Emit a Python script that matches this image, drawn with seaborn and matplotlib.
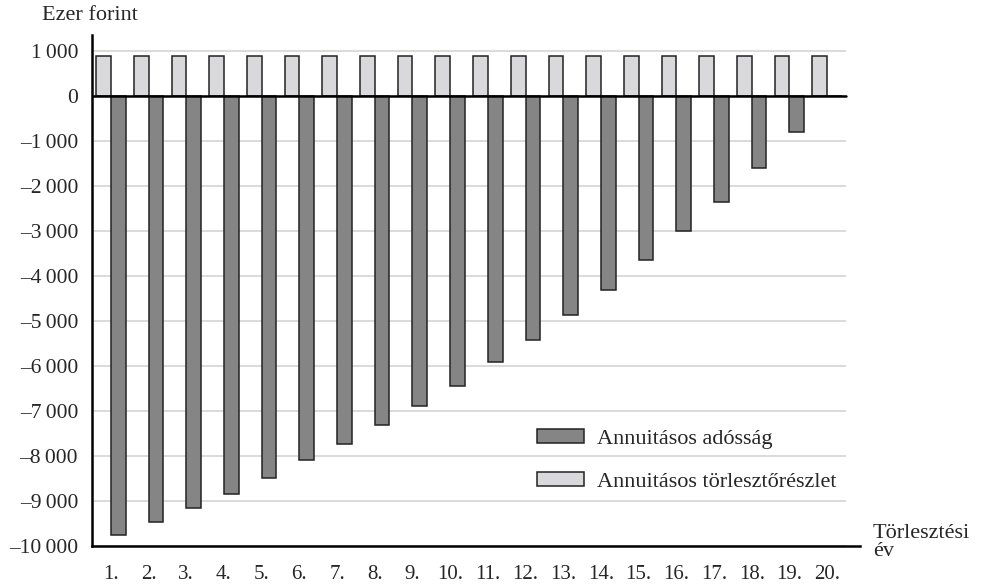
import pandas as pd
import seaborn as sns
import matplotlib.pyplot as plt
from matplotlib.ticker import FixedLocator

years = [f"{i}." for i in range(1, 21)]
adossag = [-9750, -9460, -9150, -8850, -8500, -8100, -7730, -7310, -6890, -6440,
           -5910, -5420, -4870, -4310, -3650, -3000, -2350, -1595, -815, 0]
reszlet = [880] * 20
y_ticks = list(range(-10000, 1001, 1000))

lbl_debt = "Annuitásos adósság"
lbl_pay = "Annuitásos törlesztőrészlet"

df = pd.DataFrame({
    "ev": years * 2,
    "ertek": reszlet + adossag,
    "sorozat": [lbl_pay] * 20 + [lbl_debt] * 20,
})

sns.set_style("white")
plt.rcParams["font.family"] = ["Liberation Serif", "DejaVu Serif"]
plt.rcParams["font.size"] = 15

fig = plt.figure(figsize=(9.82, 5.88), dpi=100)
ax = fig.add_axes([92 / 982, 1 - 546 / 588, (860 - 92) / 982, (546 - 35) / 588])

# grid lines behind the bars
ax.hlines(y_ticks, -0.5, 19.5, colors="#d4d4d4", linewidth=1.2, zorder=0)

g = sns.barplot(
    data=df,
    x="ev",
    y="ertek",
    hue="sorozat",
    hue_order=[lbl_pay, lbl_debt],
    palette={lbl_pay: "#d9d9db", lbl_debt: "#858585"},
    edgecolor="#222222",
    linewidth=1.1,
    width=0.78,
    ax=ax,
    zorder=2,
)

ax.axhline(0, xmin=0, xmax=(19.5 + 0.5) / (19.87 + 0.5), color="black", linewidth=1.8, zorder=3)
ax.set_xlim(-0.5, 19.87)
ax.set_ylim(-10000, 1350)

for s in ["top", "right"]:
    ax.spines[s].set_visible(False)
for s in ["left", "bottom"]:
    ax.spines[s].set_color("black")
    ax.spines[s].set_linewidth(1.8)

ax.set_yticks(y_ticks)
ax.set_yticklabels([f"{v:,}".replace(",", "\u2009").replace("-", "\u2013") for v in y_ticks])
ax.tick_params(axis="y", direction="out", length=6, width=1.5, color="black", pad=4,
               labelsize=15.5)

ax.xaxis.set_major_locator(FixedLocator([i - 0.5 for i in range(21)]))
ax.xaxis.set_minor_locator(FixedLocator(list(range(20))))
ax.xaxis.set_major_formatter(plt.NullFormatter())
ax.set_xticklabels(years, minor=True)
ax.tick_params(axis="x", which="major", direction="out", length=6, width=1.5, color="black")
ax.tick_params(axis="x", which="minor", length=0, pad=14, labelsize=15)

ax.set(xlabel=None, ylabel=None)

handles, labels = ax.get_legend_handles_labels()
ax.legend(
    handles[::-1], labels[::-1],
    loc="upper left",
    bbox_to_anchor=(526 / 982, 1 - 418 / 588),
    bbox_transform=fig.transFigure,
    frameon=False,
    fontsize=16,
    handlelength=2.1,
    handleheight=0.6,
    handletextpad=0.6,
    labelspacing=1.05,
    borderpad=0,
)

fig.text(42 / 982, 1 - 15 / 588, "Ezer forint", fontsize=16, va="center", ha="left")
fig.text(873 / 982, 1 - 524 / 588, "Törlesztési\név", fontsize=16, va="top", ha="left",
         linespacing=0.95)

plt.savefig("out.png", dpi=100)
